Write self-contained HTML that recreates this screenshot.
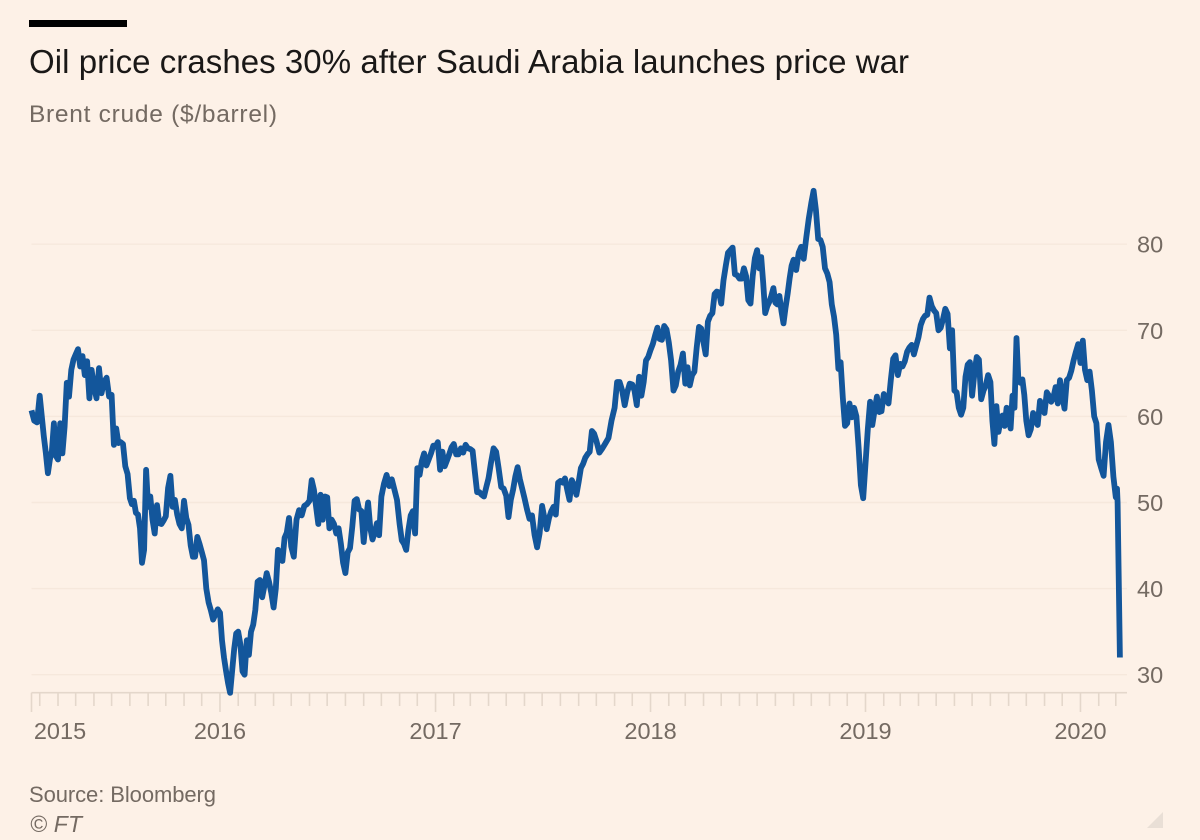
<!DOCTYPE html>
<html lang="en">
<head>
<meta charset="utf-8">
<title>Oil price crashes 30% after Saudi Arabia launches price war</title>
<style>
  html, body { margin: 0; padding: 0; background: #fdf1e7; }
  body { width: 1200px; height: 840px; overflow: hidden; }
  svg { display: block; font-family: "Liberation Sans", sans-serif; }
</style>
</head>
<body>
<svg id="chart" xmlns="http://www.w3.org/2000/svg" width="1200" height="840" viewBox="0 0 1200 840">
  <rect x="0" y="0" width="1200" height="840" fill="#fdf1e7"/>
  <rect x="29" y="20" width="98" height="7" fill="#000"/>
  <text x="29" y="73" font-size="33" fill="#1a1817" textLength="880">Oil price crashes 30% after Saudi Arabia launches price war</text>
  <text x="29" y="122" font-size="24.5" fill="#746a62" textLength="248">Brent crude ($/barrel)</text>
  <g id="grid"></g>
  <g id="xaxis"></g>
  <g id="yaxis"></g>
  <path id="line" fill="none" stroke="#13569b" stroke-width="5.8" stroke-linejoin="round" stroke-linecap="butt"/>
  <text x="29" y="802" font-size="22" fill="#746a62" textLength="187">Source: Bloomberg</text>
  <text x="30" y="832" font-size="23" font-style="italic" fill="#746a62" textLength="52">© FT</text>
  <polygon points="1147,828 1163,812 1163,828" fill="#e9dfd6"/>
</svg>
<script>
// Brent crude, $/barrel. Each row is one calendar month; samples spread evenly across it.
const prices2015 = [
  [],
  [null,null,null,60.7,59.5,59.3],
  [62.4,60,57.7,55.8,53.4,55,56,59.2,55.4],
  [55,59.2,55.7,58.8,63.9,62.3,65.4,66.6],
  [67.2,67.8,65.8,67,64.8,66.4,62.1,65.4],
  [63.5,62.1,65.6,62.7,64,64.5,62.3],
  [62.5,56.7,58.6,56.9,57,56.8,54.2,53.3],
  [50.5,49.8,50.2,48.8,48.6,47,43,44.5,53.8],
  [49.5,50.7,48,46.4,49.7,47.6,47.5,47.9],
  [48.4,51.7,53.1,49.5,50.3,48.6,47.5,47],
  [50.2,48.2,47.4,45,43.7,43.7,46,45.2],
  [44.3,43.3,40,38.4,37.5,36.4,37,37.6]
];
const prices2016 = [
  [37.2,34,32,30.4,29,27.9,30.4,33,34.8],
  [35,33.5,30.4,30,34,32.3,35,35.8],
  [37.5,40.8,41,39,40.3,41.8,40.8,39.5],
  [37.8,40,44.5,43.5,43.2,45.9,46.5,48.2],
  [44.9,43.7,48,49.1,48.5,49.6,49.8],
  [50.2,52.6,51.5,49.5,47.5,50.9,48,50.7],
  [50.6,47,48,47.5,46.4,47,45.2,43],
  [41.8,44.2,44.7,47.2,50.2,50.4,49.2,49],
  [45.4,48,50,47,45.7,46.5,47.6,46.2],
  [50.7,52.2,53.2,51.9,52.7,51.5,50.3],
  [47.5,45.6,45.2,44.5,46.8,48.5,49,46.4],
  [54,53.2,54.8,55.7,54.3,55,55.7,56.6]
];
const prices2017 = [
  [56.5,57,53.8,55.9,54.2,54.9,55.6,56.4],
  [56.8,55.6,55.6,56.3,55.8,56.7,56.3],
  [56.2,56,53.5,51.2,51.2,50.9,50.7,51.8],
  [52.8,54.7,56.3,55.9,54,51.8,51.6],
  [50.8,48.3,50.3,51.5,53,54.1,52.7,51.6],
  [50.5,49.2,48.1,48.5,46.2,44.8,46.4],
  [49.6,48.2,46.9,48.2,49,49.5,48.6,52.3],
  [52.5,52.3,52.8,51.5,50.3,52.6,52,50.9],
  [52.4,54,54.5,55.2,55.6,55.9,58.3,58],
  [57.2,55.8,56.3,56.9,57.5,59.5],
  [61,64,64,63,61.3,62.8,63.8],
  [63.7,63,61.3,64.6,62.4,64,66.5,66.9]
];
const prices2018 = [
  [67.7,68.4,69.4,70.3,69,68.9,70.5,70.1],
  [68.6,66.5,63,63.6,65.2,66,67.3],
  [63.8,65.7,63.6,64.8,65.2,68,70.4,70.2],
  [68.6,67.2,71,71.7,72,74.2,74.5,74.4],
  [73.1,75.8,77.5,79,79.3,79.6,76.5,76.4],
  [76,76,77.2,76.3,73.5,73.1,76.3,78.4],
  [79.3,77.2,78.5,75.5,72,72.8,73.3,74,74.9],
  [73.2,73,74,72.2,70.8,72.6,74.2,76,77.5],
  [78.2,77,79,79.7,78.3,80.8,83],
  [84.8,86.2,84,80.6,80.5,79.7,77.2,76.6],
  [75.6,73,71.6,69.5,65.5,66.3,62.2,58.9],
  [59.2,61.5,59.9,61,60,56.4,52,50.5]
];
const prices2019 = [
  [54.5,58.5,61.7,59,60.7,62.3,60.5,60.6],
  [62.6,62,61.5,64.2,66.7,67.1,64.8],
  [66.1,65.8,66.4,67.5,68,68.3,67.2,68.2],
  [69.2,70.6,71.3,71.7,71.8,73.8,72.8,72.3],
  [72,70,70.3,71.3,72.5,71.9,67.9,70],
  [63,62.8,61,60.2,61,64.6,66,66.3],
  [62.4,65,66.9,66.6,62,63,63.6,64.8],
  [64,59.5,56.8,61.2,58.2,59.5,60.1,58.9,61],
  [60,58.6,62.4,61,69.1,64.2,63.9,64.3,62.5],
  [59.5,57.8,58.5,60.4,59.5,59,61.8,61],
  [60.4,62.8,62.4,61.7,62.2,63.4,61.5,64.2],
  [62.5,60.9,64.2,64.5,65.3,66.5,67.5,68.4]
];
const prices2020 = [
  [66.2,68.8,65.4,64.2,65.2,63,60,59.2],
  [55,54,53.1,57,59,57,53]
];
const crashDates = ['2020-03-01','2020-03-03','2020-03-04','2020-03-08'];
const crashPrices = [50.6,51.6,50,32];

const seriesYears = [2015,2016,2017,2018,2019,2020];
const seriesByYear = [prices2015,prices2016,prices2017,prices2018,prices2019,prices2020];
const yTicks = [30,40,50,60,70,80];
const yearLabels = ['2015','2016','2017','2018','2019','2020'];

const NS = 'http://www.w3.org/2000/svg';
const xDomainStart = Date.UTC(2015,1,15);
const xDomainEnd = Date.UTC(2020,2,20);
const xRangeStart = 31.5, xRangeEnd = 1127;
const yDomain = [30,80], yRange = [674.7,244.2];
function xScale(t) {
  return xRangeStart + (t - xDomainStart) / (xDomainEnd - xDomainStart) * (xRangeEnd - xRangeStart);
}
function yScale(v) {
  return yRange[0] + (v - yDomain[0]) / (yDomain[1] - yDomain[0]) * (yRange[1] - yRange[0]);
}
function make(tag, attrs, parent) {
  const el = document.createElementNS(NS, tag);
  for (const k in attrs) el.setAttribute(k, attrs[k]);
  parent.appendChild(el);
  return el;
}

// series line
const pts = [];
seriesByYear.forEach(function (rows, yi) {
  rows.forEach(function (row, m) {
    const start = Date.UTC(seriesYears[yi], m, 1);
    const end = Date.UTC(seriesYears[yi], m + 1, 1);
    row.forEach(function (v, k) {
      if (v === null) return;
      pts.push([xScale(start + (end - start) * k / row.length), yScale(v)]);
    });
  });
});
crashDates.forEach(function (d, i) {
  pts.push([xScale(Date.parse(d + 'T00:00:00Z')), yScale(crashPrices[i])]);
});
document.getElementById('line').setAttribute('d', 'M' + pts.map(function (p) {
  return p[0].toFixed(1) + ' ' + p[1].toFixed(1);
}).join('L'));

// gridlines and y axis
const grid = document.getElementById('grid');
const yaxis = document.getElementById('yaxis');
yTicks.forEach(function (v) {
  const gl = make('line', {x1: xRangeStart, x2: xRangeEnd, y1: yScale(v), y2: yScale(v), stroke: '#f6e8dc', 'stroke-width': 1.4}, grid);
  
  
  const t = make('text', {x: 1137, y: yScale(v) + 8.5, 'font-size': 23.5, fill: '#746a62'}, yaxis);
  
  
  t.textContent = String(v);
});

// x axis
const xaxis = document.getElementById('xaxis');
const axisY = 692.7;
const axisLine = make('line', {x1: xRangeStart, x2: xRangeEnd, y1: axisY, y2: axisY, stroke: '#e4d7cb', 'stroke-width': 1.6}, xaxis);


const startTick = make('line', {x1: xRangeStart, x2: xRangeStart, y1: axisY, y2: 712, stroke: '#e4d7cb', 'stroke-width': 1.6}, xaxis);


for (let y = 2015; y <= 2020; y++) {
  for (let m = 0; m < 12; m++) {
    const t = Date.UTC(y, m, 1);
    if (t < xDomainStart || t > xDomainEnd) continue;
    const tick = make('line', {x1: xScale(t), x2: xScale(t), y1: axisY, y2: m === 0 ? 712 : 706, stroke: '#e4d7cb', 'stroke-width': 1.6}, xaxis);
    
    
  }
}
yearLabels.forEach(function (label) {
  const pos = Math.max(xScale(Date.UTC(+label, 0, 1)), 60);
  const t = make('text', {x: pos, y: 739, 'font-size': 23.5, fill: '#746a62', 'text-anchor': 'middle'}, xaxis);
  
  
  t.textContent = label;
});
</script>
</body>
</html>
